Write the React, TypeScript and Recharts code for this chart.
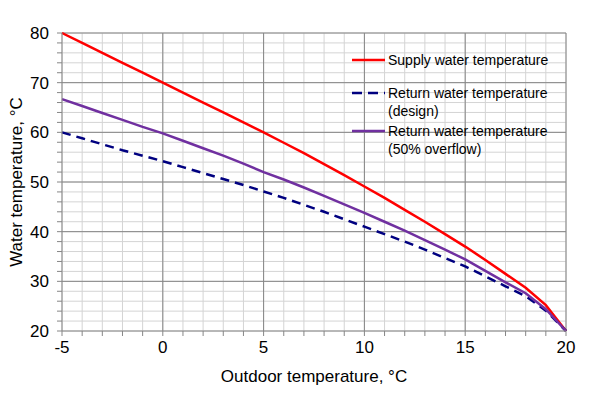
import { LineChart, Line, XAxis, YAxis, CartesianGrid, ReferenceLine } from 'recharts';

const outdoorTemps = [-5, -4, -3, -2, -1, 0, 1, 2, 3, 4, 5, 6, 7, 8, 9, 10, 11, 12, 13, 14, 15, 16, 17, 18, 19, 20];
const supplyTemps = [80, 78, 76, 74, 72, 70, 68, 66, 64, 62, 60, 57.9, 55.8, 53.6, 51.4, 49.1, 46.8, 44.4, 42, 39.5, 37, 34.3, 31.5, 28.7, 25.2, 20];
const returnDesign = [60, 58.8, 57.6, 56.4, 55.3, 54.2, 53, 51.8, 50.6, 49.4, 48.1, 46.8, 45.4, 44, 42.5, 41, 39.5, 38, 36.4, 34.7, 33, 31, 29, 27, 24.1, 20];
const returnOverflow = [66.7, 65.3, 63.9, 62.5, 61.1, 59.8, 58.3, 56.8, 55.3, 53.7, 52, 50.5, 48.9, 47.2, 45.5, 43.8, 42, 40.2, 38.3, 36.4, 34.4, 32.1, 29.8, 27.6, 24.4, 20];

const xTicks = outdoorTemps;
const yTicks = [20, 22, 24, 26, 28, 30, 32, 34, 36, 38, 40, 42, 44, 46, 48, 50, 52, 54, 56, 58, 60, 62, 64, 66, 68, 70, 72, 74, 76, 78, 80];
const majorX = [0, 5, 10, 15, 20];
const majorY = [30, 40, 50, 60, 70, 80];

const series = [
  { key: 'supply', name: ['Supply water temperature'], color: '#ff0000', dash: undefined },
  { key: 'design', name: ['Return water temperature', '(design)'], color: '#000080', dash: '9 6' },
  { key: 'overflow', name: ['Return water temperature', '(50% overflow)'], color: '#7030a0', dash: undefined },
];

const data = outdoorTemps.map((t, i) => ({
  t,
  supply: supplyTemps[i],
  design: returnDesign[i],
  overflow: returnOverflow[i],
}));

const font = 'Arial, "Liberation Sans", sans-serif';

function LegendBox() {
  return (
    <div style={{ position: 'absolute', left: 352, top: 51, width: 230, fontFamily: font, fontSize: 14, color: '#000', lineHeight: '18px' }}>
      {series.map((s, i) => (
        <div key={s.key} style={{ display: 'flex', alignItems: 'flex-start', marginBottom: i === 0 ? 15 : 2 }}>
          <svg width={36} height={18} style={{ flex: 'none' }}>
            <line x1={0} y1={9} x2={33} y2={9} stroke={s.color} strokeWidth={2.5} strokeDasharray={s.dash ? '10 6' : undefined} />
          </svg>
          <div>
            {s.name.map((n) => (
              <div key={n}>{n}</div>
            ))}
          </div>
        </div>
      ))}
    </div>
  );
}

export default function App() {
  return (
    <div style={{ position: 'absolute', left: 0, top: 0, width: 600, height: 396, background: '#fff' }}>
      <LineChart width={600} height={396} data={data} margin={{ top: 33, right: 34, left: 0, bottom: 0 }}>
        <CartesianGrid stroke="#d4d4d4" strokeWidth={1} />
        {majorX.map((v) => (
          <ReferenceLine key={'x' + v} x={v} stroke="#868686" strokeWidth={1} />
        ))}
        {majorY.map((v) => (
          <ReferenceLine key={'y' + v} y={v} stroke="#868686" strokeWidth={1} />
        ))}
        <XAxis
          dataKey="t"
          type="number"
          domain={[-5, 20]}
          ticks={xTicks}
          interval={0}
          height={65}
          stroke="#868686"
          tickSize={5}
          tickMargin={5}
          tick={{ fill: '#000', fontSize: 17, fontFamily: font }}
          tickFormatter={(v: number) => (v % 5 === 0 ? String(v) : '')}
          label={{ value: 'Outdoor  temperature, °C', position: 'insideBottom', offset: 14, fill: '#000', fontSize: 17, fontFamily: font }}
        />
        <YAxis
          type="number"
          domain={[20, 80]}
          ticks={yTicks}
          interval={0}
          width={62}
          stroke="#868686"
          tickSize={5}
          tickMargin={8}
          tick={{ fill: '#000', fontSize: 17, fontFamily: font }}
          tickFormatter={(v: number) => (v % 10 === 0 ? String(v) : '')}
          label={{ value: 'Water  temperature, °C', angle: -90, position: 'insideLeft', offset: 16, fill: '#000', fontSize: 17, fontFamily: font, style: { textAnchor: 'middle' } }}
        />
        {series.map((s) => (
          <Line
            key={s.key}
            type="linear"
            dataKey={s.key}
            stroke={s.color}
            strokeWidth={2.5}
            strokeDasharray={s.dash}
            dot={false}
            activeDot={false}
            isAnimationActive={false}
          />
        ))}
      </LineChart>
      <LegendBox />
    </div>
  );
}
